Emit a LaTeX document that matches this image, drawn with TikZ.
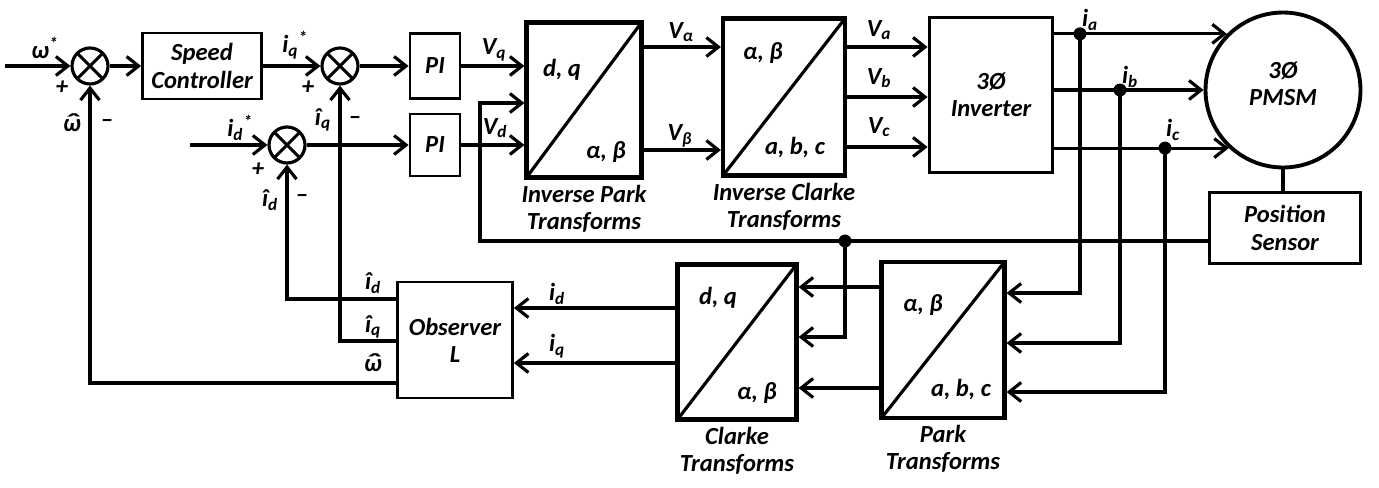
\documentclass[tikz,border=0pt]{standalone}
\usepackage{fontspec,amsmath}
\setmainfont{Carlito}
\usetikzlibrary{arrows.meta,positioning,calc}
\newcommand{\sg}[2]{#1\textsubscript{#2}}
\newcommand{\hw}{\ooalign{ω\cr\hidewidth\raisebox{0.05em}{\scalebox{1.7}[1]{ˆ}}\hidewidth\cr}}
\newcommand{\dfont}{\bfseries\itshape\fontsize{14}{15.5}\selectfont}
\tikzset{
 blk/.style={draw,line width=1.6pt,align=center,font=\dfont,inner sep=2pt},
 xform/.style={blk,line width=2.4pt,path picture={\draw[line width=1.8pt] (path picture bounding box.south west)--(path picture bounding box.north east);}},
 sumnode/.style={circle,draw,line width=1.8pt,minimum size=0.72cm,inner sep=0pt,path picture={\draw[line width=1.8pt] (path picture bounding box.north west)--(path picture bounding box.south east) (path picture bounding box.south west)--(path picture bounding box.north east);}},
 lbl/.style={font=\dfont,inner sep=1pt},
 captxt/.style={font=\dfont,align=center,inner sep=0pt},
 ln/.style={line width=1.8pt},
 arr/.style={ln,-{Straight Barb[length=2.4mm,width=3.8mm]}},
 dot/.style={circle,fill,inner sep=0pt,minimum size=2.6mm}
}
\begin{document}
\begin{tikzpicture}[x=0.02cm,y=-0.02cm]
\useasboundingbox (0,0) rectangle (1379,487);
% forward path
\node[sumnode] (sw) at (90,66) {};
\node[blk,minimum width=2.38cm,minimum height=1.32cm] (spd) at (202,66) {Speed\\Controller};
\node[sumnode] (sq) at (340,66) {};
\node[sumnode] (sd) at (287,145) {};
\node[blk,minimum width=1cm,minimum height=1.3cm] (piq) at (435,66) {PI};
\node[blk,minimum width=1cm,minimum height=1.24cm] (pid) at (435,145) {PI};
\node[xform,minimum width=2.3cm,minimum height=3.1cm] (ipk) at (584,100) {};
\node[xform,minimum width=2.44cm,minimum height=3.14cm] (icl) at (784,97) {};
\node[blk,line width=2.2pt,minimum width=2.46cm,minimum height=3.1cm] (inv) at (991,95) {3Ø\\Inverter};
\node[circle,draw,line width=2.2pt,align=center,font=\dfont,minimum size=3.1cm,inner sep=0pt,text depth=0.25cm] (pm) at (1283,90) {3Ø\\PMSM};
\node[blk,minimum width=3.02cm,minimum height=1.42cm] (pos) at (1285,228) {Position\\Sensor};
\node[captxt,below=1mm of ipk] (cipk) {Inverse Park\\Transforms};
\node[captxt,below=1mm of icl] (cicl) {Inverse Clarke\\Transforms};
% feedback path
\node[blk,minimum width=2.3cm,minimum height=2.32cm] (obs) at (455,340) {Observer\\L};
\node[xform,minimum width=2.38cm,minimum height=3.1cm] (clk) at (737,342) {};
\node[xform,minimum width=2.46cm,minimum height=3.12cm] (prk) at (943,340) {};
\node[captxt,below=1mm of clk] (cclk) {Clarke\\Transforms};
\node[captxt,below=1mm of prk] (cprk) {Park\\Transforms};
% frame names inside the transforms
\node[lbl] (ipk1) at (562,70) {d, q};
\node[lbl] (ipk2) at (606,152) {α, β};
\node[lbl] (icl1) at (763,53) {α, β};
\node[lbl] (icl2) at (795,148) {a, b, c};
\node[lbl] (clk1) at (718,298) {d, q};
\node[lbl] (clk2) at (757,393) {α, β};
\node[lbl] (prk1) at (923,305) {α, β};
\node[lbl] (prk2) at (961,390) {a, b, c};
% connectors
\coordinate (win) at (5,66);
\coordinate (idin) at (190,145);
\foreach \x/\y in {win/sw,sw/spd,spd/sq,sq/piq,idin/sd,sd/pid} \draw[arr] (\x)--(\y);
\draw[arr] (piq.east) -- (piq.east -| ipk.west);
\draw[arr] (pid.east) -- (pid.east -| ipk.west);
\foreach \y in {47,150} \draw[arr] (ipk.east |- 0,\y) -- (icl.west |- 0,\y);
\foreach \y in {47,97,147} \draw[arr] (icl.east |- 0,\y) -- (inv.west |- 0,\y);
\draw[arr] (inv.east |- pm.135) -- (pm.135);
\draw[arr] (inv.east |- pm.west) -- (pm.west);
\draw[arr] (inv.east |- pm.227) -- (pm.227);
\draw[ln] (pm.south) -- (pm.south |- pos.north);
\coordinate (ja) at (pm.135 -| 1080,0);
\coordinate (jb) at (pm.west -| 1120,0);
\coordinate (jc) at (pm.227 -| 1165,0);
\foreach \j/\y in {ja/293,jb/343,jc/392} {\node[dot] (d\j) at (\j) {}; \draw[arr] (\j) |- (prk.east |- 0,\y);}
\foreach \y in {287,388} \draw[arr] (prk.west |- 0,\y) -- (clk.east |- 0,\y);
\foreach \y in {308,363} \draw[arr] (clk.west |- 0,\y) -- (obs.east |- 0,\y);
\coordinate (th) at (845,241);
\draw[arr] (pos.west |- th) -| (480,103) -- (ipk.west |- 0,103);
\node[dot] (dth) at (th) {};
\draw[arr] (th) |- (clk.east |- 0,337);
\draw[arr] (obs.west |- 0,299) -| (sd);
\draw[arr] (obs.west |- 0,341) -| (sq);
\draw[arr] (obs.west |- 0,383) -| (sw);
% signal names
\node[lbl] (lw) at (45,48) {ω\textsuperscript{*}};
\node[lbl] (lwp) at (62,88) {+};
\node[lbl] (lwh) at (72,126) {\hw};
\node[lbl] (lwm) at (107,123) {\textendash};
\node[lbl] (liq) at (295,45) {\sg{i}{q}\textsuperscript{*}};
\node[lbl] (liqp) at (308,88) {+};
\node[lbl] (liqh) at (323,120) {\sg{î}{q}};
\node[lbl] (liqm) at (355,120) {\textendash};
\node[lbl] (lid) at (240,128) {\sg{i}{d}\textsuperscript{*}};
\node[lbl] (lidp) at (258,170) {+};
\node[lbl] (lidh) at (270,200) {\sg{î}{d}};
\node[lbl] (lidm) at (302,198) {\textendash};
\node[lbl] (lVq) at (494,50) {\sg{V}{q}};
\node[lbl] (lVd) at (495,128) {\sg{V}{d}};
\node[lbl] (lVal) at (681,32) {\sg{V}{α}};
\node[lbl] (lVbe) at (680,136) {\sg{V}{β}};
\node[lbl] (lVa) at (879,30) {\sg{V}{a}};
\node[lbl] (lVb) at (879,78) {\sg{V}{b}};
\node[lbl] (lVc) at (879,127) {\sg{V}{c}};
\node[lbl] (lia) at (1090,20) {\sg{i}{a}};
\node[lbl] (lib) at (1130,77) {\sg{i}{b}};
\node[lbl] (lic) at (1173,130) {\sg{i}{c}};
\node[lbl] (lod) at (373,283) {\sg{î}{d}};
\node[lbl] (loq) at (373,327) {\sg{î}{q}};
\node[lbl] (low) at (373,366) {\hw};
\node[lbl] (lcd) at (557,294) {\sg{i}{d}};
\node[lbl] (lcq) at (557,346) {\sg{i}{q}};
\end{tikzpicture}
\end{document}
